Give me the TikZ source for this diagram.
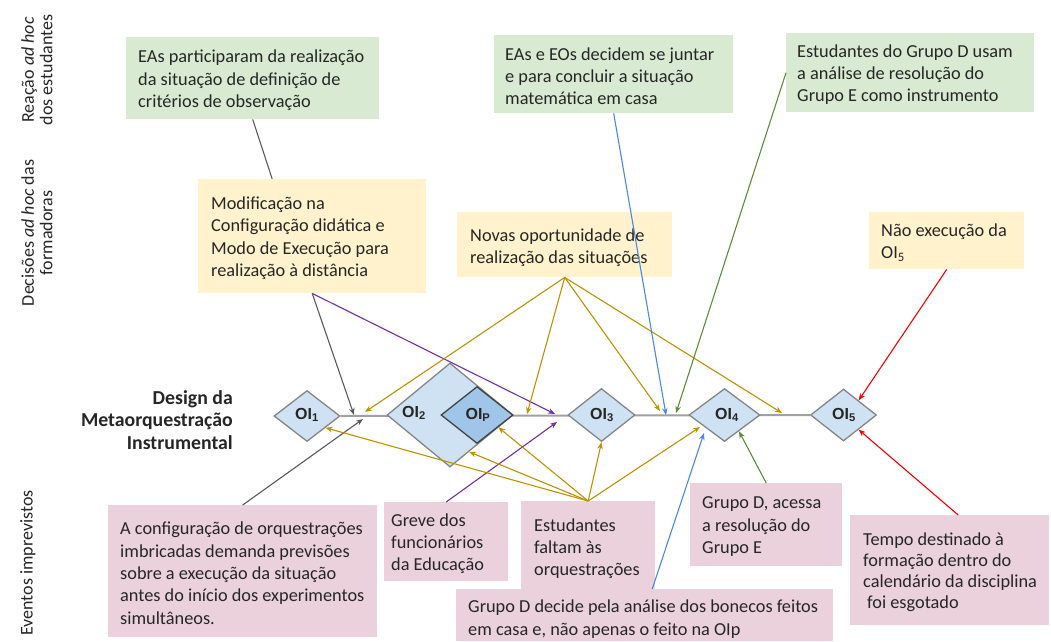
\documentclass[tikz,border=0pt]{standalone}
\usepackage{fontspec}
\setmainfont{Carlito}
\newfontfamily\labfont{Liberation Sans}
\usetikzlibrary{shapes.geometric,arrows.meta,calc,backgrounds}

\definecolor{gfill}{HTML}{D9EAD3}
\definecolor{yfill}{HTML}{FFF2CC}
\definecolor{pfill}{HTML}{EAD1DC}
\definecolor{dfill}{HTML}{CFE2F3}
\definecolor{dpfill}{HTML}{9FC5E8}
\definecolor{dline}{HTML}{858585}
\definecolor{dpline}{HTML}{434343}
\definecolor{tline}{HTML}{A0A0A0}
\definecolor{cgold}{HTML}{BF9000}
\definecolor{cpurple}{HTML}{7030A0}
\definecolor{cblue}{HTML}{4A86E8}
\definecolor{cgreen}{HTML}{5B8C3A}
\definecolor{cred}{HTML}{FF0000}
\definecolor{cgray}{HTML}{595959}
\definecolor{txt}{HTML}{262626}

\begin{document}
\begin{tikzpicture}[x=1pt,y=-1pt,
  box/.style={draw=none, inner sep=0pt, anchor=north west},
  gbox/.style={box, fill=gfill},
  ybox/.style={box, fill=yfill},
  pbox/.style={box, fill=pfill},
  btext/.style={anchor=west, align=left, inner sep=0pt, text=txt, font=\fontsize{18.3}{22.4}\selectfont},
  side/.style={rotate=90, align=center, inner sep=0pt, text=txt, font=\fontsize{18}{18.5}\selectfont},
  dia/.style={diamond, draw=dline, line width=1.3pt, fill=dfill, inner sep=0pt},
  dlab/.style={font=\labfont\bfseries\fontsize{16}{16}\selectfont, text=txt, inner sep=0pt},
  conn/.style={line width=1.1pt, -{Stealth[length=7pt,width=5.5pt]}},
]
\useasboundingbox (0,0) rectangle (1051,641);

% side labels
\node[side] (lab1) at (37,70) {Reação \textit{ad hoc}\\dos estudantes};
\node[side] (lab2) at (37,233) {Decisões \textit{ad hoc} das\\formadoras};
\node[side] (lab3) at (28,563) {Eventos imprevistos};
\node[anchor=east, align=right, inner sep=0pt, text=txt, font=\bfseries\fontsize{19.8}{22.5}\selectfont] (dmi) at (233,420) {Design da\\Metaorquestração\\Instrumental};

% boxes
\node[gbox, minimum width=253pt, minimum height=82pt] (g1) at (126,37) {};
\node[btext] (g1t) at ([xshift=12pt,yshift=-2pt]g1.west) {EAs participaram da realização\\da situação de definição de\\critérios de observação};
\node[gbox, minimum width=239pt, minimum height=78pt] (g2) at (494,35) {};
\node[btext] (g2t) at ([xshift=11pt,yshift=-2pt]g2.west) {EAs e EOs decidem se juntar\\e para concluir a situação\\matemática em casa};
\node[gbox, minimum width=248pt, minimum height=79pt] (g3) at (786,33) {};
\node[btext] (g3t) at ([xshift=11pt,yshift=-2pt]g3.west) {Estudantes do Grupo D usam\\a análise de resolução do\\Grupo E como instrumento};

\node[ybox, minimum width=228pt, minimum height=114pt] (y1) at (198,179) {};
\node[btext] (y1t) at ([xshift=13pt,yshift=-2pt]y1.west) {Modificação na\\Configuração didática e\\Modo de Execução para\\realização à distância};
\node[ybox, minimum width=215pt, minimum height=65pt] (y2) at (457,212) {};
\node[btext] (y2t) at ([xshift=13pt,yshift=-3pt]y2.west) {Novas oportunidade de\\realização das situações};
\node[ybox, minimum width=155pt, minimum height=57pt] (y3) at (869,212) {};
\node[btext] (y3t) at ([xshift=12pt,yshift=-2pt]y3.west) {Não execução da\\OI\textsubscript{5}};

\node[pbox, minimum width=269pt, minimum height=132pt] (p1) at (108,505) {};
\node[btext] (p1t) at ([xshift=12pt,yshift=-2pt]p1.west) {A configuração de orquestrações\\imbricadas demanda previsões\\sobre a execução da situação\\antes do início dos experimentos\\simultâneos.};
\node[pbox, minimum width=124pt, minimum height=79pt] (p2) at (384,502) {};
\node[btext] (p2t) at ([xshift=7pt,yshift=-2pt]p2.west) {Greve dos\\funcionários\\da Educação};
\node[pbox, minimum width=134pt, minimum height=91pt] (p3) at (521,501) {};
\node[btext] (p3t) at ([xshift=13pt,yshift=-2pt]p3.west) {Estudantes\\faltam às\\orquestrações};
\node[pbox, minimum width=152pt, minimum height=83pt] (p4) at (690,483) {};
\node[btext] (p4t) at ([xshift=12pt,yshift=-2pt]p4.west) {Grupo D, acessa\\a resolução do\\Grupo E};
\node[pbox, minimum width=377pt, minimum height=52pt] (p5) at (456,589) {};
\node[btext] (p5t) at ([xshift=12pt,yshift=-4pt]p5.west) {Grupo D decide pela análise dos bonecos feitos\\em casa e, não apenas o feito na OIp};
\node[pbox, minimum width=199pt, minimum height=110pt] (tb) at (850,515) {};
\node[btext, font=\fontsize{18.3}{21}\selectfont] (tbt) at ([xshift=13pt,yshift=-2pt]tb.west) {Tempo destinado à\\formação dentro do\\calendário da disciplina\\\hspace*{4pt}foi esgotado};

% diamonds
\node[dia, minimum width=66pt, minimum height=51pt] (oi1) at (307,416) {};
\node[dia, minimum width=126pt, minimum height=104pt] (oi2) at (450,415) {};
\node[dia, fill=dpfill, draw=dpline, minimum width=72pt, minimum height=57pt] (oip) at (477,415) {};
\node[dia, minimum width=67pt, minimum height=53pt] (oi3) at (601.5,415) {};
\node[dia, minimum width=71pt, minimum height=53pt] (oi4) at (724.5,415) {};
\node[dia, minimum width=66pt, minimum height=52pt] (oi5) at (843.5,415) {};

\node[dlab] (l1) at (307,415) {OI\textsubscript{1}};
\node[dlab] (l2) at (414,413) {OI\textsubscript{2}};
\node[dlab] (lp) at (478,415) {OI\textsubscript{P}};
\node[dlab] (l3) at (602,415) {OI\textsubscript{3}};
\node[dlab] (l4) at (727,415) {OI\textsubscript{4}};
\node[dlab] (l5) at (844,415) {OI\textsubscript{5}};

\begin{scope}[on background layer]
\draw[tline, line width=2pt] (oi1.east) -- (oi5.west);
\end{scope}

% timeline targets
\coordinate (t1) at (354,415);
\coordinate (t2) at (365,412);
\coordinate (t3) at (363,419);
\coordinate (t4) at (527,414);
\coordinate (t5) at (555,414);
\coordinate (t6) at (557,422);
\coordinate (t7) at (660,411);
\coordinate (t8) at (666,415);
\coordinate (t9) at (676,413);
\coordinate (t10) at (782,413);
\coordinate (b4) at (704,433);
\coordinate (y4) at (700,427);

% connectors
\draw[cgray, line width=1.1pt] (g1.south) -- ([xshift=-40pt]y1.north);
\draw[conn, cgray] (y1.south) -- (t1);
\draw[conn, cpurple] (y1.south) -- (t5);
\draw[conn, cgold] (y2.south) -- (t2);
\draw[conn, cgold] (y2.south) -- (t4);
\draw[conn, cgold] (y2.south) -- (t7);
\draw[conn, cgold] (y2.south) -- (t10);
\draw[conn, cblue] (g2.south) -- (t8);
\draw[conn, cgreen] (g3.west) -- (t9);
\draw[conn, cred] (y3.south) -- ($(oi5.north)!0.45!(oi5.east)$);
\draw[conn, cgray] (p1.north) -- (t3);
\draw[conn, cpurple] (p2.north) -- (t6);
\draw[conn, cgold] (p3.north) -- ($(oi1.east)!0.45!(oi1.south)$);
\draw[conn, cgold] (p3.north) -- ($(oi2.east)!0.7!(oi2.south)$);
\draw[conn, cgold] (p3.north) -- ($(oip.east)!0.42!(oip.south)$);
\draw[conn, cgold] (p3.north) -- (oi3.south);
\draw[conn, cgold] (p3.north) -- (y4);
\draw[conn, cgreen] (p4.north) -- ($(oi4.south)!0.4!(oi4.east)$);
\draw[conn, cblue] ([xshift=7.5pt]p5.north) -- (b4);
\draw[conn, cred] ([xshift=8.5pt]tb.north) -- ($(oi5.south)!0.45!(oi5.east)$);
\end{tikzpicture}
\end{document}
